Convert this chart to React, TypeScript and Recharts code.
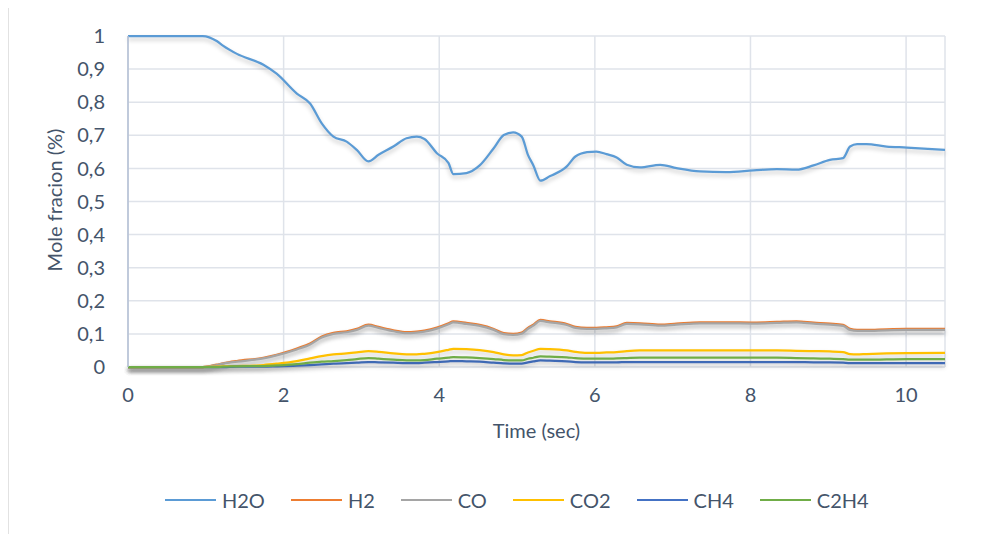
import { LineChart, Line, XAxis, YAxis, CartesianGrid, Legend, Label } from 'recharts'

const time = [0, 0.5, 0.96, 1.14, 1.22, 1.4, 1.74, 1.91, 2.17, 2.34, 2.49, 2.64, 2.81, 2.94, 3.09, 3.22, 3.41, 3.58, 3.71, 3.81, 3.97, 4.12, 4.18, 4.35, 4.52, 4.7, 4.83, 4.95, 5.06, 5.14, 5.21, 5.3, 5.42, 5.64, 5.75, 5.9, 6.02, 6.15, 6.28, 6.41, 6.58, 6.84, 7.05, 7.35, 7.69, 8.04, 8.34, 8.59, 8.81, 9.02, 9.19, 9.28, 9.37, 9.49, 9.75, 10.01, 10.5]

const h2o = [1, 1, 1, 0.985, 0.971, 0.946, 0.913, 0.886, 0.826, 0.796, 0.736, 0.696, 0.681, 0.656, 0.621, 0.641, 0.666, 0.691, 0.696, 0.689, 0.646, 0.616, 0.583, 0.586, 0.609, 0.661, 0.701, 0.709, 0.696, 0.641, 0.609, 0.563, 0.576, 0.606, 0.636, 0.649, 0.651, 0.643, 0.633, 0.611, 0.603, 0.611, 0.601, 0.591, 0.589, 0.594, 0.598, 0.596, 0.609, 0.626, 0.631, 0.666, 0.673, 0.673, 0.666, 0.663, 0.656]
const h2 = [0, 0, 0, 0.007, 0.011, 0.018, 0.028, 0.037, 0.056, 0.071, 0.092, 0.103, 0.108, 0.115, 0.128, 0.121, 0.111, 0.105, 0.107, 0.11, 0.119, 0.132, 0.138, 0.133, 0.127, 0.115, 0.102, 0.1, 0.104, 0.118, 0.128, 0.142, 0.138, 0.13, 0.121, 0.118, 0.118, 0.12, 0.123, 0.133, 0.132, 0.128, 0.131, 0.135, 0.135, 0.134, 0.136, 0.138, 0.134, 0.131, 0.127, 0.115, 0.112, 0.112, 0.114, 0.115, 0.115]
const co = [0, 0, 0, 0.006, 0.01, 0.016, 0.026, 0.035, 0.053, 0.068, 0.089, 0.1, 0.105, 0.112, 0.125, 0.118, 0.108, 0.102, 0.104, 0.107, 0.116, 0.129, 0.135, 0.13, 0.124, 0.112, 0.099, 0.097, 0.101, 0.115, 0.125, 0.139, 0.135, 0.127, 0.118, 0.115, 0.115, 0.117, 0.12, 0.13, 0.129, 0.125, 0.128, 0.132, 0.132, 0.131, 0.133, 0.135, 0.131, 0.128, 0.124, 0.112, 0.109, 0.109, 0.111, 0.112, 0.112]
const co2 = [0, 0, 0, 0.001, 0.002, 0.003, 0.006, 0.01, 0.018, 0.026, 0.033, 0.038, 0.041, 0.044, 0.048, 0.046, 0.041, 0.038, 0.038, 0.04, 0.045, 0.052, 0.055, 0.054, 0.051, 0.045, 0.038, 0.035, 0.036, 0.044, 0.049, 0.055, 0.054, 0.05, 0.046, 0.043, 0.043, 0.044, 0.045, 0.048, 0.05, 0.05, 0.05, 0.05, 0.05, 0.05, 0.05, 0.049, 0.048, 0.047, 0.045, 0.039, 0.038, 0.039, 0.041, 0.042, 0.043]
const ch4 = [0, 0, 0, 0, 0, 0.001, 0.001, 0.002, 0.004, 0.006, 0.008, 0.01, 0.012, 0.013, 0.015, 0.014, 0.013, 0.012, 0.012, 0.013, 0.015, 0.017, 0.018, 0.017, 0.016, 0.013, 0.011, 0.01, 0.01, 0.014, 0.017, 0.02, 0.019, 0.017, 0.015, 0.014, 0.014, 0.014, 0.014, 0.015, 0.015, 0.015, 0.015, 0.015, 0.015, 0.015, 0.015, 0.015, 0.014, 0.014, 0.013, 0.012, 0.012, 0.012, 0.012, 0.012, 0.012]
const c2h4 = [0, 0, 0, 0, 0.001, 0.002, 0.003, 0.005, 0.009, 0.013, 0.016, 0.018, 0.021, 0.024, 0.027, 0.025, 0.022, 0.02, 0.02, 0.021, 0.025, 0.028, 0.03, 0.029, 0.027, 0.024, 0.021, 0.02, 0.02, 0.025, 0.028, 0.032, 0.031, 0.029, 0.027, 0.025, 0.025, 0.025, 0.026, 0.027, 0.028, 0.028, 0.028, 0.028, 0.028, 0.028, 0.028, 0.027, 0.026, 0.025, 0.024, 0.022, 0.022, 0.022, 0.023, 0.024, 0.024]

const xTicks = [0, 2, 4, 6, 8, 10]
const yTicks = [0, 0.1, 0.2, 0.3, 0.4, 0.5, 0.6, 0.7, 0.8, 0.9, 1]

const series = [
  { key: 'H2O', color: '#5b9bd5' },
  { key: 'H2', color: '#ed7d31' },
  { key: 'CO', color: '#a5a5a5' },
  { key: 'CO2', color: '#ffc000' },
  { key: 'CH4', color: '#4472c4' },
  { key: 'C2H4', color: '#70ad47' },
]

const data = time.map((t, i) => ({
  t,
  H2O: h2o[i],
  H2: h2[i],
  CO: co[i],
  CO2: co2[i],
  CH4: ch4[i],
  C2H4: c2h4[i],
}))

const FONT = 'Lato, "Open Sans", sans-serif'
const TEXT = '#44546a'

const fmtY = (v: number) => (v === 0 || v === 1 ? String(v) : v.toFixed(1).replace('.', ','))

function LegendBox() {
  return (
    <div style={{ display: 'flex', alignItems: 'center', fontFamily: FONT, fontSize: 20, color: TEXT, lineHeight: '24px' }}>
      {series.map((s) => (
        <div key={s.key} style={{ display: 'flex', alignItems: 'center', marginRight: 26 }}>
          <span style={{ display: 'inline-block', width: 51, height: 2.5, background: s.color, marginRight: 6 }} />
          <span>{s.key}</span>
        </div>
      ))}
    </div>
  )
}

export default function App() {
  return (
    <div style={{ position: 'relative', width: 973, height: 526 }}>
      <style>{`.recharts-line-curve{filter:drop-shadow(0 3px 2px rgba(0,0,0,0.22));}`}</style>
      <div style={{ position: 'absolute', left: 0, top: -1, width: 972, height: 540, borderLeft: '1px solid #e2e2e2', borderTop: '1px solid #e2e2e2' }} />
      <LineChart width={973} height={526} data={data} margin={{ top: 28, right: 36, left: 0, bottom: 137 }}>
        <CartesianGrid stroke="#dfe3ea" strokeWidth={1.5} />
        <XAxis
          dataKey="t"
          type="number"
          domain={[0, 10.5]}
          ticks={xTicks}
          axisLine={false}
          tickLine={false}
          tickSize={0}
          tickMargin={21}
          height={30}
          tick={{ fill: TEXT, fontSize: 20, fontFamily: FONT }}
        >
          <Label value="Time (sec)" position="bottom" offset={27} fill={TEXT} fontSize={20} fontFamily={FONT} />
        </XAxis>
        <YAxis
          type="number"
          domain={[0, 1]}
          ticks={yTicks}
          width={120}
          tickFormatter={fmtY}
          axisLine={{ stroke: '#b3bfd4', strokeWidth: 1.5 }}
          tickLine={false}
          tickSize={0}
          tickMargin={23}
          tick={{ fill: TEXT, fontSize: 20, fontFamily: FONT }}
        >
          <Label
            content={() => (
              <text
                x={46}
                y={192}
                transform="rotate(-90 46 192)"
                textAnchor="middle"
                dominantBaseline="central"
                fill={TEXT}
                fontSize={20}
                fontFamily={FONT}
              >
                Mole fracion (%)
              </text>
            )}
          />
        </YAxis>
        <Legend
          layout="horizontal"
          verticalAlign="middle"
          align="center"
          content={() => <LegendBox />}
          wrapperStyle={{ top: 480, left: 157, width: 'auto' }}
        />
        {series.map((s) => (
          <Line
            key={s.key}
            type="monotone"
            dataKey={s.key}
            stroke={s.color}
            strokeWidth={2.25}
            dot={false}
            activeDot={false}
            isAnimationActive={false}
          />
        ))}
      </LineChart>
    </div>
  )
}
